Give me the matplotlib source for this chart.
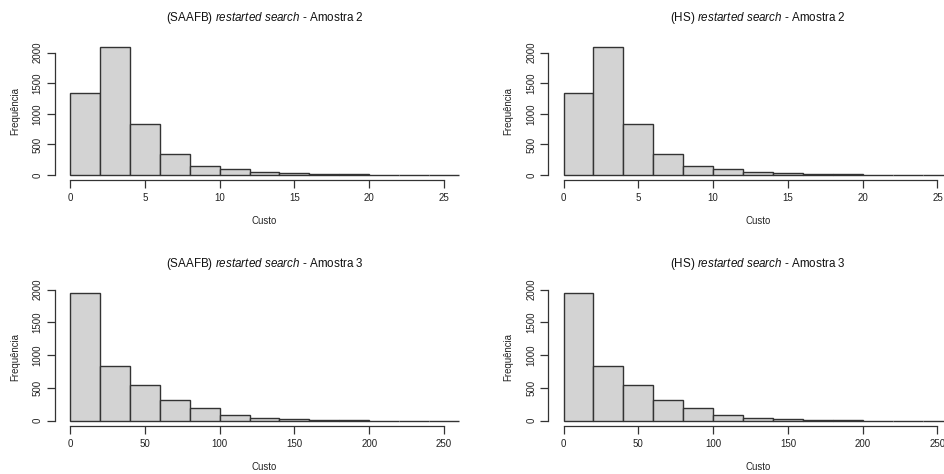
import numpy as np
import matplotlib
matplotlib.use("Agg")
import matplotlib.pyplot as plt

plt.rcParams["font.family"] = ["Liberation Sans", "DejaVu Sans"]
plt.rcParams["mathtext.fontset"] = "custom"
plt.rcParams["mathtext.rm"] = "Liberation Sans"
plt.rcParams["mathtext.it"] = "Liberation Sans:italic"

# Amostra 2: bins of width 2 from 0 to 26
edges_a2 = np.arange(0, 27, 2)
counts_a2 = [1340, 2095, 832, 345, 148, 93, 55, 30, 18, 10, 8, 6, 2]
ticks_a2 = [0, 5, 10, 15, 20, 25]

# Amostra 3: bins of width 20 from 0 to 260
edges_a3 = np.arange(0, 261, 20)
counts_a3 = [1955, 830, 540, 310, 190, 87, 37, 21, 4, 3, 2, 1, 1]
ticks_a3 = [0, 50, 100, 150, 200, 250]

yticks = [0, 500, 1000, 1500, 2000]
methods = ["SAAFB", "HS"]

W, H = 944, 474
fig = plt.figure(figsize=(W / 100, H / 100), dpi=100)

# pixel boxes (left, top, width, height) of each plot region
boxes = {
    (0, 0): (54.5, 41.8, 420, 138.4),
    (0, 1): (548.0, 41.8, 420, 138.4),
    (1, 0): (54.5, 287.5, 420, 138.3),
    (1, 1): (548.0, 287.5, 420, 138.3),
}
title_y = [17.7, 263.7]
xlab_y = [221.5, 467.0]

edge_col = "#333333"
txt_col = "#222222"

for row, (edges, counts, xt, amostra) in enumerate([
        (edges_a2, counts_a2, ticks_a2, 2),
        (edges_a3, counts_a3, ticks_a3, 3)]):
    for col, method in enumerate(methods):
        l, t, w, h = boxes[(row, col)]
        ax = fig.add_axes([l / W, 1 - (t + h) / H, w / W, h / H])
        ax.set_facecolor("none")
        width = edges[1] - edges[0]
        ax.bar(edges[:-1], counts, width=width, align="edge",
               color="#D3D3D3", edgecolor=edge_col, linewidth=1.0, clip_on=False)

        # R-style 4% extension of the ranges
        xr = edges[-1] - edges[0]
        ax.set_xlim(edges[0] - 0.04 * xr, edges[-1] + 0.04 * xr)
        ym = max(counts)
        ax.set_ylim(-0.04 * ym, 1.04 * ym)

        for s in ["top", "right"]:
            ax.spines[s].set_visible(False)
        ax.spines["left"].set_bounds(yticks[0], yticks[-1])
        ax.spines["bottom"].set_bounds(xt[0], xt[-1])
        for s in ["left", "bottom"]:
            ax.spines[s].set_color(edge_col)
            ax.spines[s].set_linewidth(0.9)

        ax.set_xticks(xt)
        ax.set_yticks(yticks)
        ax.set_yticklabels([str(v) for v in yticks], rotation=90, va="center")
        ax.tick_params(axis="both", direction="out", length=5.5, width=0.9,
                       color=edge_col, labelsize=7.0, labelcolor=txt_col)
        ax.tick_params(axis="x", pad=4)
        ax.tick_params(axis="y", pad=3)

        cx = (l + w / 2) / W
        fig.text(cx, 1 - title_y[row] / H,
                 "(%s) $\\it{restarted\\ search}$ - Amostra %d" % (method, amostra),
                 ha="center", va="center", fontsize=8.4, color="#111111")
        fig.text(cx, 1 - xlab_y[row] / H, "Custo", ha="center", va="center",
                 fontsize=6.9, color=txt_col)
        fig.text((l - 39.5) / W, 1 - (t + h / 2) / H, "Frequência", rotation=90,
                 ha="center", va="center", fontsize=6.9, color=txt_col)

fig.savefig("out.png", dpi=100)
